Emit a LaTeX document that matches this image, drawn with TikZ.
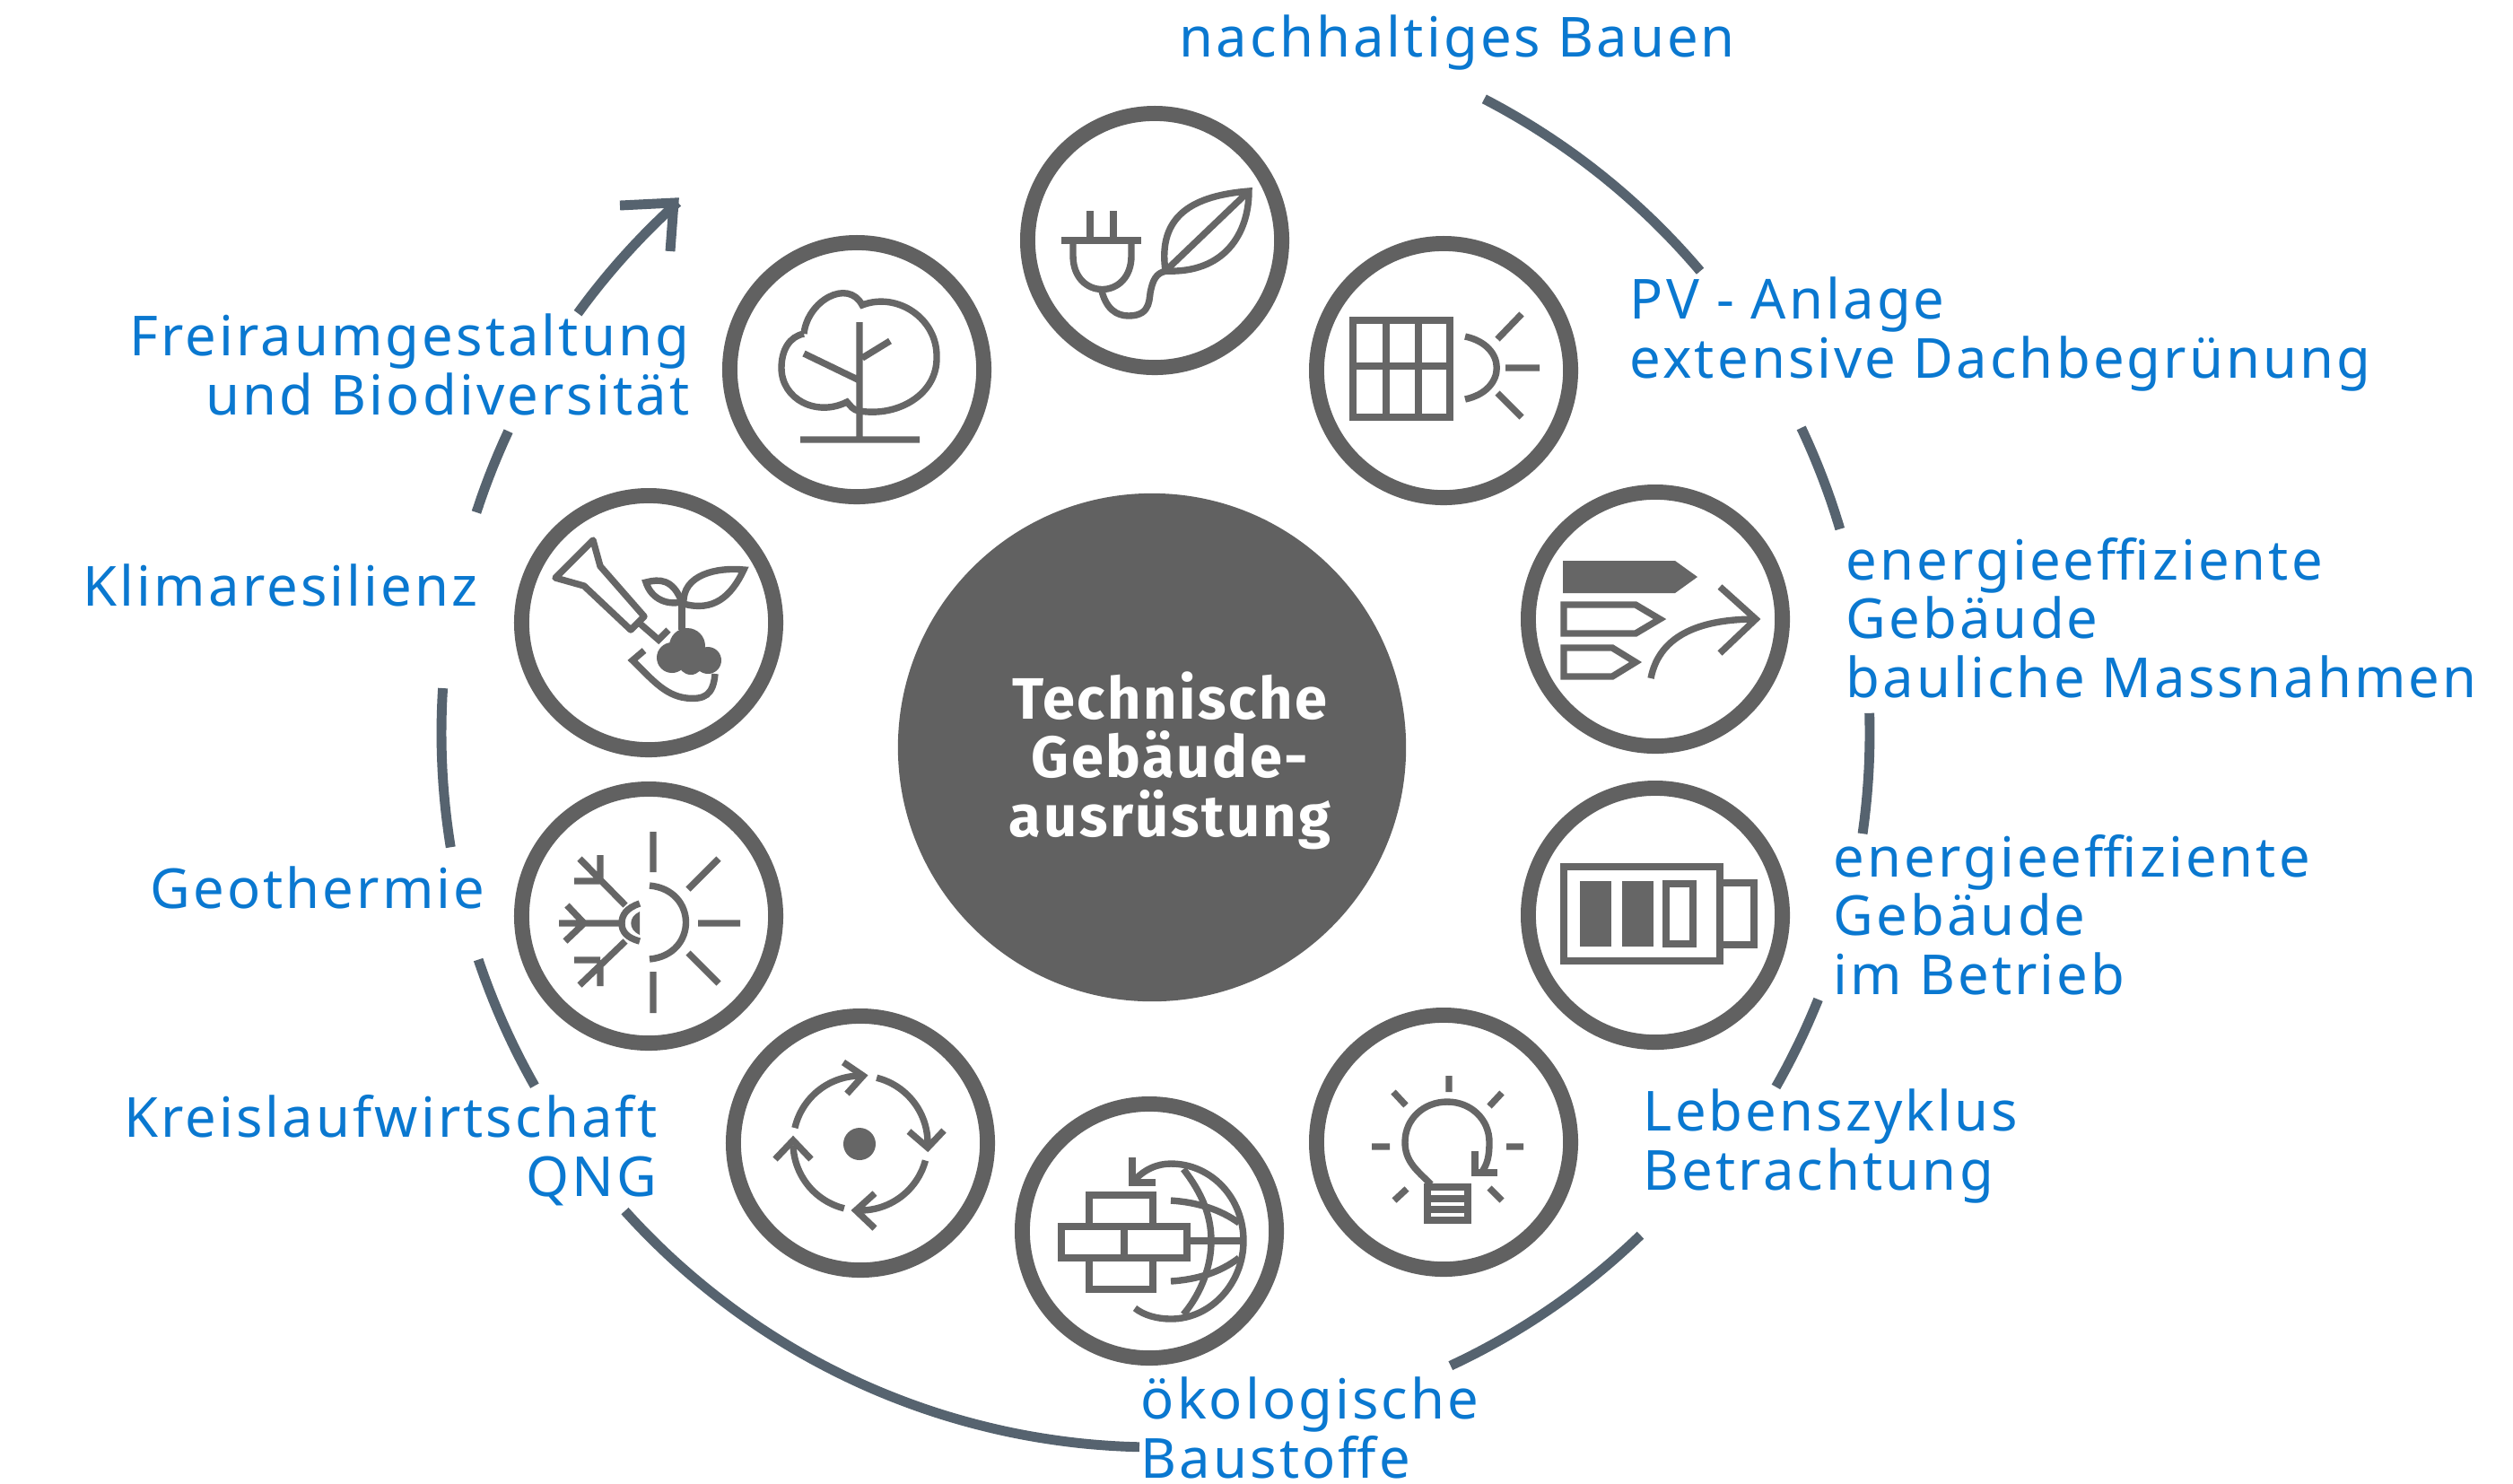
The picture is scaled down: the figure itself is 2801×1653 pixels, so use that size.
\documentclass[tikz,border=0pt]{standalone}
\usepackage{fontspec}
\setmainfont[LetterSpace=5]{Noto Sans}
\newfontfamily\boldf[LetterSpace=4]{Fira Sans}
\definecolor{ringc}{HTML}{616161}
\definecolor{iconc}{HTML}{666666}
\definecolor{arcc}{HTML}{56636F}
\definecolor{bluec}{HTML}{0A78D0}
\tikzset{
  badge/.style={circle,draw=ringc,line width=4.8pt,fill=white,minimum size=2.83cm,inner sep=0pt},
  hub/.style={circle,fill=ringc,minimum size=5.66cm,inner sep=0pt},
  hubtext/.style={text=white,inner sep=0pt,align=center,font=\boldf\fontsize{18.5}{18.6}\selectfont\bfseries},
  lbl/.style={text=bluec,inner sep=0pt,font=\fontsize{17.5}{18.6}\selectfont},
  lbll/.style={lbl,align=left,anchor=base west},
  lblr/.style={lbl,align=right,anchor=base east},
  ic/.style={draw=iconc,line width=2.1pt,line cap=butt,line join=miter},
  icf/.style={fill=iconc,draw=none},
  ringarc/.style={draw=arcc,line width=3.1pt},
}
\begin{document}
\begin{tikzpicture}[x=0.01cm,y=-0.01cm]
\useasboundingbox (0,0) rectangle (2801,1653);
% outer arc
\foreach \a/\b in {62.6/40.3,25.3/16.6,1.6/-8.1,-21.9/-29.7,-91.3/-138,-150.4/-161.5,-170.8/-183.6,162/155,144/132}{
  \draw[ringarc] plot[domain=\a:\b,samples=40,smooth] ({1288+796*cos(\x)},{817-796*sin(\x)});
}
\draw[ringarc] plot[domain=-46:-65,samples=20,smooth] ({1288+778*cos(\x)},{817-778*sin(\x)});
\coordinate (tip) at (751,226);
\draw[ringarc] (691,229) -- (tip) -- (747,280);
% hub
\node[hub] (hub) at (1284,833) {};
\node[hubtext,anchor=base] (hubt) at (1304,932) {Technische\\Gebäude-\\ausrüstung};
% badges
\node[badge] (plug) at (1287,268) {};
\node[badge] (pv) at (1609,413) {};
\node[badge] (energy) at (1845,690) {};
\node[badge] (battery) at (1845,1020) {};
\node[badge] (bulb) at (1609,1273) {};
\node[badge] (brick) at (1281,1372) {};
\node[badge] (cycle) at (959,1274) {};
\node[badge] (geo) at (723,1021) {};
\node[badge] (shovel) at (723,694) {};
\node[badge] (tree) at (955,412) {};
% plug icon
\draw[ic] (1215,235)--(1215,268) (1241,235)--(1241,268) (1183,268)--(1272,268);
\draw[ic] (1196,268) -- (1196,285) .. controls (1196,335) and (1261,335) .. (1261,285) -- (1261,268);
\draw[ic] (1227,320) .. controls (1232,345) and (1245,352) .. (1258,352) .. controls (1285,352) and (1280,330) .. (1283,322) .. controls (1286,308) and (1292,303) .. (1301,302);
\draw[ic] (1299,302) .. controls (1290,240) and (1330,218) .. (1392,213) .. controls (1392,260) and (1365,305) .. (1299,302);
\draw[ic] (1299,302) -- (1392,213);
% pv icon
\draw[ic] (1508,357) rectangle (1616,465);
\draw[ic] (1545,357)--(1545,465) (1581,357)--(1581,465) (1508,408)--(1616,408);
\draw[ic] (1633,375) .. controls (1680,385) and (1680,435) .. (1633,445);
\draw[ic] (1678,410)--(1716,410) (1669,378)--(1696,350) (1669,438)--(1696,465);
% energy icon
\fill[icf] (1742,625)--(1867,625)--(1892,643)--(1867,661)--(1742,661)--cycle;
\draw[ic] (1743,674)--(1823,674)--(1850,690)--(1823,706)--(1743,706)--cycle;
\draw[ic] (1743,722)--(1797,722)--(1823,738)--(1797,754)--(1743,754)--cycle;
\draw[ic] (1840,756) .. controls (1850,705) and (1900,690) .. (1957,690);
\draw[ic] (1917,654)--(1957,690)--(1917,728);
% battery icon
\draw[ic] (1743,966) rectangle (1917,1071);
\draw[ic] (1917,984)--(1955,984)--(1955,1053)--(1917,1053);
\fill[icf] (1761,982) rectangle (1796,1055);
\fill[icf] (1808,982) rectangle (1843,1055);
\draw[ic] (1857,985) rectangle (1887,1052);
% bulb icon
\draw[ic] (1595,1320) .. controls (1580,1305) and (1566,1295) .. (1566,1273) .. controls (1566,1247) and (1587,1228) .. (1613,1228) .. controls (1640,1228) and (1660,1248) .. (1660,1273) .. controls (1660,1288) and (1658,1298) .. (1651,1307);
\draw[ic] (1644,1283)--(1644,1307)--(1669,1307);
\draw[ic] (1591,1323) rectangle (1636,1360);
\draw[ic] (1591,1336)--(1636,1336) (1591,1348)--(1636,1348);
\draw[ic] (1615,1199)--(1615,1217) (1553,1217)--(1567,1232) (1674,1218)--(1660,1233) (1529,1278)--(1549,1278) (1679,1278)--(1698,1278) (1554,1338)--(1568,1325) (1674,1338)--(1660,1324);
% brick icon
\draw[ic] (1214,1332) rectangle (1285,1367);
\draw[ic] (1183,1367) rectangle (1323,1402);
\draw[ic] (1253,1367)--(1253,1402);
\draw[ic] (1214,1402) rectangle (1285,1437);
\draw[ic] (1262,1290)--(1262,1318)--(1288,1318);
\draw[ic] (1262,1318) .. controls (1275,1303) and (1290,1297) .. (1305,1297) .. controls (1350,1297) and (1386,1335) .. (1386,1383) .. controls (1386,1430) and (1350,1470) .. (1305,1470) .. controls (1290,1470) and (1275,1466) .. (1265,1458);
\draw[ic] (1319,1303) .. controls (1340,1330) and (1350,1355) .. (1350,1383) .. controls (1350,1410) and (1340,1440) .. (1319,1465);
\draw[ic] (1305,1338) .. controls (1335,1340) and (1360,1348) .. (1381,1363);
\draw[ic] (1305,1428) .. controls (1335,1426) and (1360,1418) .. (1381,1402);
\draw[ic] (1325,1383)--(1386,1383);
% cycle icon
\fill[icf] (958,1275) circle (18);
\draw[ic] plot[domain=167:88,samples=20,smooth] ({959+75*cos(\x)},{1274-75*sin(\x)});
\draw[ic] (940,1184)--(962,1199)--(944,1219);
\draw[ic] plot[domain=76:-3,samples=20,smooth] ({959+75*cos(\x)},{1274-75*sin(\x)});
\draw[ic] (1013,1261)--(1034,1279)--(1052,1260);
\draw[ic] plot[domain=-15:-94,samples=20,smooth] ({959+75*cos(\x)},{1274-75*sin(\x)});
\draw[ic] (975,1330)--(954,1349)--(975,1369);
\draw[ic] plot[domain=-104:-178,samples=20,smooth] ({959+75*cos(\x)},{1274-75*sin(\x)});
\draw[ic] (864,1292)--(884,1271)--(904,1292);
% geo icon
\draw[ic] (724,987) .. controls (778,992) and (778,1064) .. (724,1069);
\draw[ic] (728,927)--(728,972) (728,1083)--(728,1129) (778,1029)--(825,1029) (767,991)--(801,957) (767,1062)--(801,1096);
\draw[ic] (623,1029)--(692,1029) (632,1009)--(651,1029)--(630,1049);
\draw[ic] (697,1009)--(646,957) (640,982)--(669,982) (669,953)--(669,982);
\draw[ic] (697,1049)--(646,1098) (640,1070)--(669,1070) (669,1099)--(669,1070);
\draw[ic] (713,1007) .. controls (698,1012) and (693,1020) .. (693,1029) .. controls (693,1038) and (698,1045) .. (713,1049);
\fill[icf] (713,1016) .. controls (700,1022) and (700,1036) .. (713,1042) -- cycle;
% shovel icon
\draw[ic,line join=round] (619,644)--(661,602)--(669,631)--(718,687)--(703,702)--(651,653)--cycle;
\draw[ic] (711,693)--(734,713)--(745,702);
\draw[ic] (718,725)--(705,736) .. controls (725,755) and (740,775) .. (765,778) .. controls (785,780) and (795,775) .. (797,751);
\fill[icf] (749,733) circle (17) (766,720) circle (20) (789,736) circle (15) (770,738) circle (14);
\draw[ic] (760,667)--(760,702);
\draw[ic] (760,671) .. controls (750,645) and (735,645) .. (720,649) .. controls (725,665) and (740,675) .. (760,671);
\draw[ic] (762,673) .. controls (760,640) and (800,632) .. (829,635) .. controls (815,665) and (795,682) .. (762,673);
% tree icon
\draw[ic] (896,372) .. controls (900,335) and (945,310) .. (961,340) .. controls (1000,325) and (1045,355) .. (1044,398) .. controls (1045,440) and (1000,465) .. (958,458) .. controls (950,457) and (948,452) .. (944,448) .. controls (910,465) and (871,445) .. (871,410) .. controls (871,390) and (880,375) .. (896,372);
\draw[ic] (958,359)--(958,488) (892,490)--(1025,490) (956,423)--(896,394) (961,399)--(992,380);
% labels
\node[lbll] (l1) at (1314,63) {nachhaltiges Bauen};
\node[lbll] (l2) at (1816,421) {PV - Anlage\\extensive Dachbegrünung};
\node[lbll] (l3) at (2057,777) {energieeffiziente\\Gebäude\\bauliche Massnahmen};
\node[lbll] (l4) at (2043,1108) {energieeffiziente\\Gebäude\\im Betrieb};
\node[lbll] (l5) at (1831,1326) {Lebenszyklus\\Betrachtung};
\node[lbll] (l6) at (1271,1647) {ökologische\\Baustoffe};
\node[lblr] (l7) at (769,462) {Freiraumgestaltung\\und Biodiversität};
\node[lblr] (l8) at (533,675) {Klimaresilienz};
\node[lblr] (l9) at (541,1012) {Geothermie};
\node[lblr] (l10) at (733,1333) {Kreislaufwirtschaft\\QNG};
\end{tikzpicture}
\end{document}
